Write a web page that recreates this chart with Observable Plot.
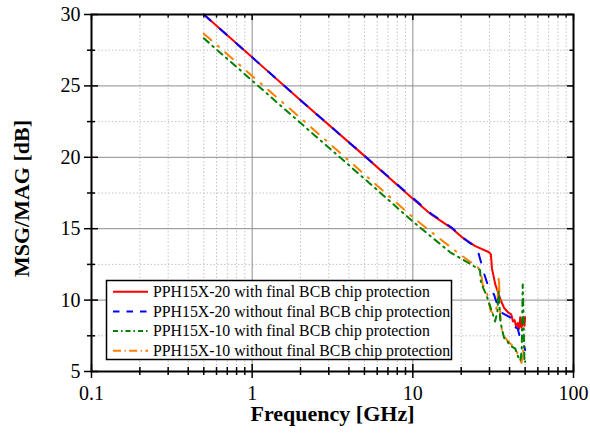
<!DOCTYPE html>
<html>
<head>
<meta charset="utf-8">
<script src="https://cdn.jsdelivr.net/npm/d3@7"></script>
<script src="https://cdn.jsdelivr.net/npm/@observablehq/plot@0.6"></script>
<style>
  html, body { margin: 0; padding: 0; background: #fff; }
  #chart { width: 590px; height: 445px; }
</style>
</head>
<body>
<div id="chart"></div>
<script>
// ---------- data ----------
const seriesNames = [
  "PPH15X-20 with final BCB chip protection",
  "PPH15X-20 without final BCB chip protection",
  "PPH15X-10 with final BCB chip protection",
  "PPH15X-10 without final BCB chip protection"
];
const seriesColors = ["#ff0000", "#0000ff", "#008000", "#ff8000"];

// PPH15X-20 with final BCB
const redFreq = [0.5, 1, 2, 5, 10, 13, 17.6, 20, 24.3, 29.8, 30.6, 31.1, 32.6, 34, 35.5, 37, 39.5, 41, 42, 43, 44, 45, 46, 46.6, 47.5, 48.5, 49.5, 50];
const redMag  = [30, 27.0, 24.0, 20.1, 17.1, 16.0, 15.0, 14.45, 13.8, 13.35, 13.2, 12.2, 11.1, 10.5, 9.9, 9.45, 9.1, 9.0, 8.5, 8.6, 8.1, 8.4, 8.0, 8.8, 8.1, 8.5, 8.2, 8.8];

// PPH15X-20 without final BCB
const blueFreq = [0.5, 1, 2, 5, 10, 13, 17.6, 20, 22, 24.5, 25.6, 26.2, 27.5, 29, 30.5, 32, 32.6, 34, 36, 38.8, 41.7, 42.2, 45, 46.5, 48, 49, 50];
const blueMag  = [30, 27.0, 24.0, 20.1, 17.15, 16.05, 15.05, 14.45, 14.1, 13.75, 13.3, 12.9, 12.0, 11.2, 10.7, 10.4, 10.1, 9.5, 9.1, 8.9, 8.7, 8.2, 8.0, 7.35, 7.1, 6.9, 6.5];

// PPH15X-10 with final BCB
const greenFreq = [0.5, 1, 2, 5, 10, 17.2, 20, 23.8, 26.2, 26.5, 27.4, 28.8, 30, 31.5, 32.5, 33.6, 34.2, 35, 35.8, 37, 38.8, 40.5, 43.4, 45.5, 46.6, 47.6, 48.3, 48.8, 49.5, 50];
const greenMag  = [28.33, 25.37, 22.4, 18.5, 15.5, 13.32, 12.9, 12.4, 12.1, 11.3, 10.85, 10.3, 9.7, 9.0, 8.5, 9.2, 10.6, 8.6, 8.0, 7.35, 7.1, 6.8, 6.6, 5.95, 5.75, 6.4, 11.1, 9.0, 5.6, 5.7];

// PPH15X-10 without final BCB
const orangeFreq = [0.5, 1, 2, 5, 10, 18.4, 22.4, 25, 26.5, 27.2, 28.8, 30.5, 32, 33.5, 34.3, 35, 35.6, 37, 38.8, 41, 43.4, 45.5, 46.4, 47.5, 48.5, 49.3];
const orangeMag  = [28.66, 25.7, 22.75, 18.8, 15.8, 13.44, 12.74, 12.4, 12.0, 11.1, 10.6, 9.25, 9.0, 9.6, 11.7, 9.0, 8.05, 7.5, 7.15, 6.9, 6.6, 6.1, 5.9, 5.6, 6.6, 5.8];

// axes / ticks
const xDomain = [0.1, 100];
const yDomain = [5, 30];
const xTicksMajor = [0.1, 1, 10, 100];
const xTicksMinor = [0.2, 0.3, 0.4, 0.5, 0.6, 0.7, 0.8, 0.9, 2, 3, 4, 5, 6, 7, 8, 9, 20, 30, 40, 50, 60, 70, 80, 90];
const xGridMajor = [1, 10];
const yTicksMajor = [5, 10, 15, 20, 25, 30];
const yTicksMinor = [7.5, 12.5, 17.5, 22.5, 27.5];
const yGridMajor = [10, 15, 20, 25];
const xLabel = "Frequency [GHz]";
const yLabel = "MSG/MAG [dB]";

// ---------- build ----------
const rows = (f, v) => f.map((d, i) => ({f: d, v: v[i]}));
const redData = rows(redFreq, redMag);
const blueData = rows(blueFreq, blueMag);
const greenData = rows(greenFreq, greenMag);
const orangeData = rows(orangeFreq, orangeMag);

const plotDash = ["none", "9,12.5", "6.5,5,1.5,5", "10,8.5,1.5,8.5"];
const legendDash = ["none", "6.5,7", "5,3,1.5,3", "8,3.5,1.2,3.5"];
const serif = '"Liberation Serif", "Times New Roman", Times, serif';

const yLo = () => yDomain[0], yHi = () => yDomain[1];
const xLo = () => xDomain[0], xHi = () => xDomain[1];
const tk = {stroke: "#000", strokeWidth: 1.5};

const plot = Plot.plot({
  width: 590,
  height: 445,
  marginLeft: 91,
  marginRight: 17,
  marginTop: 14,
  marginBottom: 74,
  style: {fontFamily: serif, background: "#fff", color: "#000"},
  x: {type: "log", domain: xDomain},
  y: {domain: yDomain},
  marks: [
    // grid
    Plot.ruleX(xTicksMinor, {stroke: "#c4c4c4", strokeDasharray: "1.5,2"}),
    Plot.ruleY(yTicksMinor, {stroke: "#c4c4c4", strokeDasharray: "1.5,2"}),
    Plot.ruleX(xGridMajor, {stroke: "#8c8c8c", strokeWidth: 1}),
    Plot.ruleY(yGridMajor, {stroke: "#8c8c8c", strokeWidth: 1}),
    // series
    Plot.line(redData, {x: "f", y: "v", stroke: seriesColors[0], strokeWidth: 2}),
    Plot.line(blueData, {x: "f", y: "v", stroke: seriesColors[1], strokeWidth: 2, strokeDasharray: plotDash[1]}),
    Plot.line(orangeData, {x: "f", y: "v", stroke: seriesColors[3], strokeWidth: 2, strokeDasharray: plotDash[3]}),
    Plot.line(greenData, {x: "f", y: "v", stroke: seriesColors[2], strokeWidth: 2, strokeDasharray: plotDash[2]}),
    // frame
    Plot.frame({stroke: "#000", strokeWidth: 2}),
    // bottom ticks (crossing)
    Plot.ruleX(xTicksMajor, {x: d => d, y1: yLo, y2: yLo, insetTop: -7, insetBottom: -7, ...tk}),
    Plot.ruleX(xTicksMinor, {x: d => d, y1: yLo, y2: yLo, insetTop: -4, insetBottom: -4, ...tk}),
    // top ticks (inward)
    Plot.ruleX(xTicksMajor, {x: d => d, y1: yHi, y2: yHi, insetTop: 0, insetBottom: -6, ...tk}),
    Plot.ruleX(xTicksMinor, {x: d => d, y1: yHi, y2: yHi, insetTop: 0, insetBottom: -3.5, ...tk}),
    // left ticks (crossing)
    Plot.ruleY(yTicksMajor, {y: d => d, x1: xLo, x2: xLo, insetLeft: -7, insetRight: -7, ...tk}),
    Plot.ruleY(yTicksMinor, {y: d => d, x1: xLo, x2: xLo, insetLeft: -4, insetRight: -4, ...tk}),
    // right ticks (inward)
    Plot.ruleY(yTicksMajor, {y: d => d, x1: xHi, x2: xHi, insetLeft: -6, insetRight: 0, ...tk}),
    Plot.ruleY(yTicksMinor, {y: d => d, x1: xHi, x2: xHi, insetLeft: -3.5, insetRight: 0, ...tk}),
    // tick labels
    Plot.axisX({ticks: xTicksMajor, tickSize: 0, tickPadding: 14, fontSize: 20, label: null, tickFormat: d => String(d)}),
    Plot.axisY({ticks: yTicksMajor, tickSize: 0, tickPadding: 11, fontSize: 20, label: null, tickFormat: d => String(d)}),
    // titles
    Plot.text([xLabel], {text: d => d, frameAnchor: "bottom", textAnchor: "middle", dy: 49, fontSize: 22, fontWeight: "bold"}),
    Plot.text([yLabel], {text: d => d, frameAnchor: "left", textAnchor: "middle", rotate: -90, dx: -70, dy: 5.5, fontSize: 22, fontWeight: "bold"})
  ]
});

// ---------- legend (inside the plot area) ----------
const svg = d3.select(plot);
const lg = svg.append("g")
  .attr("font-family", serif)
  .attr("text-anchor", "start");
const box = {x: 106.5, y: 280.5, w: 345, h: 79};
lg.append("rect")
  .attr("x", box.x).attr("y", box.y).attr("width", box.w).attr("height", box.h)
  .attr("fill", "#fff").attr("stroke", "#000").attr("stroke-width", 1.5);
seriesNames.forEach((name, i) => {
  const cy = 291.7 + i * 19.7;
  lg.append("line")
    .attr("x1", 113).attr("x2", 148).attr("y1", cy).attr("y2", cy)
    .attr("stroke", seriesColors[i]).attr("stroke-width", 2)
    .attr("stroke-dasharray", legendDash[i]);
  lg.append("text")
    .attr("x", 153).attr("y", cy).attr("dy", "0.33em")
    .attr("text-anchor", "start")
    .attr("font-size", 15.8).attr("fill", "#000")
    .text(name);
});

document.getElementById("chart").appendChild(plot);
</script>
</body>
</html>
